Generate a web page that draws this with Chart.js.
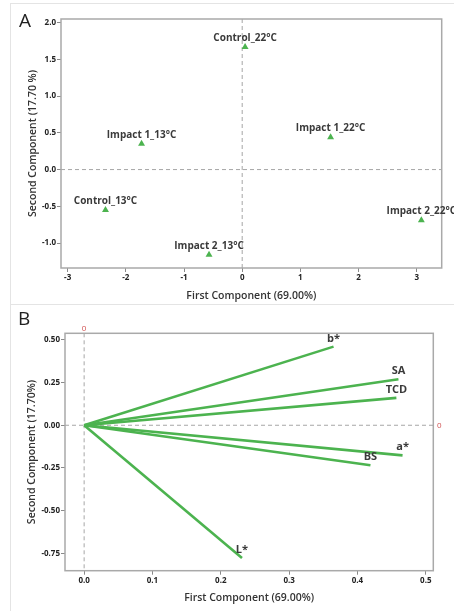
<!DOCTYPE html>
<html lang="en">
<head>
    <meta charset="UTF-8">
    <title>PCA score plot and loading plot</title>
    <script src="https://cdn.jsdelivr.net/npm/chart.js"></script>
    <style>
        body {
            margin: 0;
            background: #fff;
            font-family: 'Open Sans', sans-serif;
        }
        .page {
            position: relative;
            width: 454px;
            height: 611px;
            overflow: hidden;
            background: #fff;
        }
        .rule { position: absolute; background: #e4e4e4; }
        .panel-letter {
            position: absolute;
            font-size: 19px;
            color: #222;
            line-height: 1;
        }
        canvas { position: absolute; }
    </style>
</head>
<body>
<div class="page">
    <div class="rule" style="left:10px;top:3px;width:444px;height:1px"></div>
    <div class="rule" style="left:10px;top:3px;width:1px;height:608px"></div>
    <div class="rule" style="left:10px;top:304px;width:444px;height:1px"></div>

    <canvas id="scoreChart" width="443" height="300" style="left:11px;top:4px"></canvas>
    <canvas id="loadingChart" width="443" height="305" style="left:11px;top:306px"></canvas>

    <div class="panel-letter" style="left:19px;top:11px">A</div>
    <div class="panel-letter" style="left:18px;top:309px">B</div>
</div>

<script>
    // score plot (A)
    const scoreNames = ['Control_22°C', 'Impact 1_22°C', 'Impact 1_13°C', 'Control_13°C', 'Impact 2_13°C', 'Impact 2_22°C'];
    const scoreX = [0.05, 1.52, -1.73, -2.35, -0.57, 3.08];
    const scoreY = [1.67, 0.44, 0.35, -0.55, -1.16, -0.69];
    const scoreTicksX = [-3, -2, -1, 0, 1, 2, 3];
    const scoreTicksY = [-1.0, -0.5, 0.0, 0.5, 1.0, 1.5, 2.0];

    // loading plot (B)
    const loadingNames = ['b*', 'SA', 'TCD', 'a*', 'BS', 'L*'];
    const loadingX = [0.365, 0.460, 0.457, 0.466, 0.419, 0.231];
    const loadingY = [0.460, 0.269, 0.160, -0.176, -0.234, -0.776];
    const loadingTicksX = [0.0, 0.1, 0.2, 0.3, 0.4, 0.5];
    const loadingTicksY = [-0.75, -0.50, -0.25, 0.00, 0.25, 0.50];

    const green = '#4cb34f';
    const tickFont = { family: "'Open Sans', sans-serif", size: 8, weight: 'bold' };
    const titleFont = { family: "'Open Sans', sans-serif", size: 10.5, weight: '600' };

    // frame, dashed zero lines, point labels
    const pcaExtras = {
        id: 'pcaExtras',
        beforeDatasetsDraw(chart, args, opts) {
            const { ctx, chartArea: a, scales } = chart;
            const x0 = scales.x.getPixelForValue(0);
            const y0 = scales.y.getPixelForValue(0);
            ctx.save();
            ctx.strokeStyle = '#a6a6a6';
            ctx.lineWidth = 1;
            ctx.setLineDash([4, 3]);
            ctx.beginPath();
            ctx.moveTo(x0, a.top);
            ctx.lineTo(x0, a.bottom);
            ctx.moveTo(a.left, y0);
            ctx.lineTo(a.right, y0);
            ctx.stroke();
            ctx.setLineDash([]);
            ctx.strokeStyle = '#a9a9a9';
            ctx.lineWidth = 1.5;
            ctx.strokeRect(a.left, a.top, a.right - a.left, a.bottom - a.top);
            if (opts.redZeros) {
                ctx.fillStyle = '#d05050';
                ctx.font = "8px 'Open Sans', sans-serif";
                ctx.textAlign = 'center';
                ctx.textBaseline = 'middle';
                ctx.fillText('0', x0, a.top - 5);
                ctx.fillText('0', a.right + 6, y0);
            }
            ctx.restore();
        },
        afterDatasetsDraw(chart, args, opts) {
            const { ctx } = chart;
            ctx.save();
            ctx.fillStyle = '#3a3a3a';
            ctx.font = `bold ${opts.size}px 'Open Sans', sans-serif`;
            ctx.textAlign = 'center';
            ctx.textBaseline = 'alphabetic';
            opts.names.forEach((name, i) => {
                const meta = chart.getDatasetMeta(opts.perDataset ? i : 0);
                const pt = meta.data[opts.perDataset ? 1 : i];
                ctx.fillText(name, pt.x, pt.y - opts.lift);
            });
            ctx.restore();
        }
    };

    function axis(ticks, digits, min, max, title, size, titlePad) {
        return {
            type: 'linear',
            min: min,
            max: max,
            afterBuildTicks: s => { s.ticks = ticks.map(v => ({ value: v })); },
            afterFit: s => {
                if (s.isHorizontal()) s.height = size; else s.width = size;
            },
            grid: { drawOnChartArea: false, drawTicks: true, tickLength: 4, color: '#8a8a8a' },
            border: { display: false },
            ticks: {
                font: tickFont,
                color: '#222',
                padding: 1,
                maxRotation: 0,
                callback: v => v.toFixed(digits)
            },
            title: { display: true, text: title, font: titleFont, color: '#333', padding: titlePad }
        };
    }

    new Chart(document.getElementById('scoreChart'), {
        type: 'scatter',
        data: {
            datasets: [{
                data: scoreX.map((x, i) => ({ x: x, y: scoreY[i] })),
                pointStyle: 'triangle',
                pointRadius: 4,
                backgroundColor: green,
                borderColor: green,
                borderWidth: 0
            }]
        },
        options: {
            responsive: false,
            animation: false,
            layout: { padding: { left: 15, right: 12.3, top: 15, bottom: 0 } },
            plugins: {
                legend: { display: false },
                tooltip: { enabled: false },
                pcaExtras: { names: scoreNames, size: 10, lift: 6, perDataset: false, redZeros: false }
            },
            scales: {
                x: axis(scoreTicksX, 0, -3.115, 3.43, 'First Component (69.00%)', 36, { top: 0, bottom: 2 }),
                y: axis(scoreTicksY, 1, -1.34, 2.05, 'Second Component (17.70 %)', 35, { top: 1, bottom: 0 })
            }
        },
        plugins: [pcaExtras]
    });

    new Chart(document.getElementById('loadingChart'), {
        type: 'scatter',
        data: {
            datasets: loadingX.map((x, i) => ({
                data: [{ x: 0, y: 0 }, { x: x, y: loadingY[i] }],
                showLine: true,
                borderColor: green,
                borderWidth: 2.6,
                pointRadius: 0
            }))
        },
        options: {
            responsive: false,
            animation: false,
            layout: { padding: { left: 14, right: 20.7, top: 27.3, bottom: 6 } },
            plugins: {
                legend: { display: false },
                tooltip: { enabled: false },
                pcaExtras: { names: loadingNames, size: 11, lift: 5, perDataset: true, redZeros: true }
            },
            scales: {
                x: axis(loadingTicksX, 1, -0.028, 0.511, 'First Component (69.00%)', 34.3, { top: 0, bottom: 1 }),
                y: axis(loadingTicksY, 2, -0.851, 0.538, 'Second Component (17.70%)', 40, { top: 1, bottom: 0 })
            }
        },
        plugins: [pcaExtras]
    });
</script>
</body>
</html>
